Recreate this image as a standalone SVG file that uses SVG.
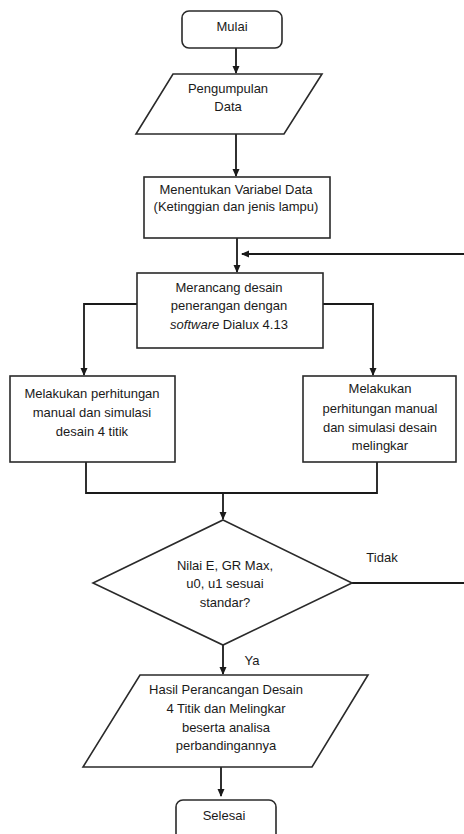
<svg xmlns="http://www.w3.org/2000/svg" width="464" height="834" viewBox="0 0 464 834">
<style>
.s{fill:#fff;stroke:#2a2a2a;stroke-width:1.6}
.t{font-family:"Liberation Sans",Arial,sans-serif;font-size:13px;fill:#1a1a1a;text-anchor:middle}
.c{fill:none;stroke:#1a1a1a;stroke-width:1.8}
</style>
<defs>
<marker id="a" markerWidth="8" markerHeight="8" refX="7" refY="4" orient="auto" markerUnits="userSpaceOnUse">
<path d="M0,0.5 L8,4 L0,7.5 Z" fill="#1a1a1a"/>
</marker>
</defs>
<rect width="464" height="834" fill="#fff"/>
<g id="connectors">
<line class="c" x1="236" y1="48" x2="236" y2="73" marker-end="url(#a)"/>
<line class="c" x1="236" y1="134" x2="236" y2="176" marker-end="url(#a)"/>
<line class="c" x1="237" y1="238" x2="237" y2="272" marker-end="url(#a)"/>
<line class="c" x1="464" y1="254" x2="242" y2="254" marker-end="url(#a)"/>
<polyline class="c" points="137,304 84,304 84,375" marker-end="url(#a)"/>
<polyline class="c" points="323,304 373,304 373,375" marker-end="url(#a)"/>
<polyline class="c" points="86,462 86,493 377,493 377,462"/>
<line class="c" x1="223" y1="493" x2="223" y2="519" marker-end="url(#a)"/>
<line class="c" x1="352" y1="583" x2="464" y2="583"/>
<line class="c" x1="223" y1="645" x2="223" y2="674" marker-end="url(#a)"/>
<line class="c" x1="221" y1="767" x2="221" y2="796" marker-end="url(#a)"/>
<text class="t" x="382" y="562">Tidak</text>
<text class="t" x="252" y="665">Ya</text>
</g>
<g id="mulai">
<rect class="s" x="182" y="11" width="100" height="37" rx="7"/>
<text class="t" x="232" y="31">Mulai</text>
</g>
<g id="pengumpulan">
<polygon class="s" points="173,74 322,74 284,134 136,134"/>
<text class="t" x="228" y="93">Pengumpulan</text>
<text class="t" x="228" y="111">Data</text>
</g>
<g id="menentukan">
<rect class="s" x="144" y="177" width="186" height="61"/>
<text class="t" x="236" y="194">Menentukan Variabel Data</text>
<text class="t" x="236" y="211">(Ketinggian dan jenis lampu)</text>
</g>
<g id="merancang">
<rect class="s" x="137" y="273" width="186" height="75"/>
<text class="t" x="229" y="292">Merancang desain</text>
<text class="t" x="229" y="310">penerangan dengan</text>
<text class="t" x="229" y="329"><tspan font-style="italic">software</tspan> Dialux 4.13</text>
</g>
<g id="empat-titik">
<rect class="s" x="10" y="376" width="165" height="86"/>
<text class="t" x="92" y="398">Melakukan perhitungan</text>
<text class="t" x="92" y="417">manual dan simulasi</text>
<text class="t" x="92" y="436">desain 4 titik</text>
</g>
<g id="melingkar">
<rect class="s" x="303" y="376" width="153" height="86"/>
<text class="t" x="380" y="393">Melakukan</text>
<text class="t" x="380" y="413">perhitungan manual</text>
<text class="t" x="380" y="432">dan simulasi desain</text>
<text class="t" x="380" y="450">melingkar</text>
</g>
<g id="keputusan">
<polygon class="s" points="223,520 352,583 223,645 93,583"/>
<text class="t" x="225" y="570">Nilai E, GR Max,</text>
<text class="t" x="225" y="588">u0, u1 sesuai</text>
<text class="t" x="225" y="607">standar?</text>
</g>
<g id="hasil">
<polygon class="s" points="140,675 368,675 312,767 83,767"/>
<text class="t" x="226" y="694">Hasil Perancangan Desain</text>
<text class="t" x="226" y="713">4 Titik dan Melingkar</text>
<text class="t" x="226" y="732">beserta analisa</text>
<text class="t" x="226" y="750">perbandingannya</text>
</g>
<g id="selesai">
<rect class="s" x="176" y="800" width="100" height="44" rx="7"/>
<text class="t" x="224" y="820">Selesai</text>
</g>
</svg>
